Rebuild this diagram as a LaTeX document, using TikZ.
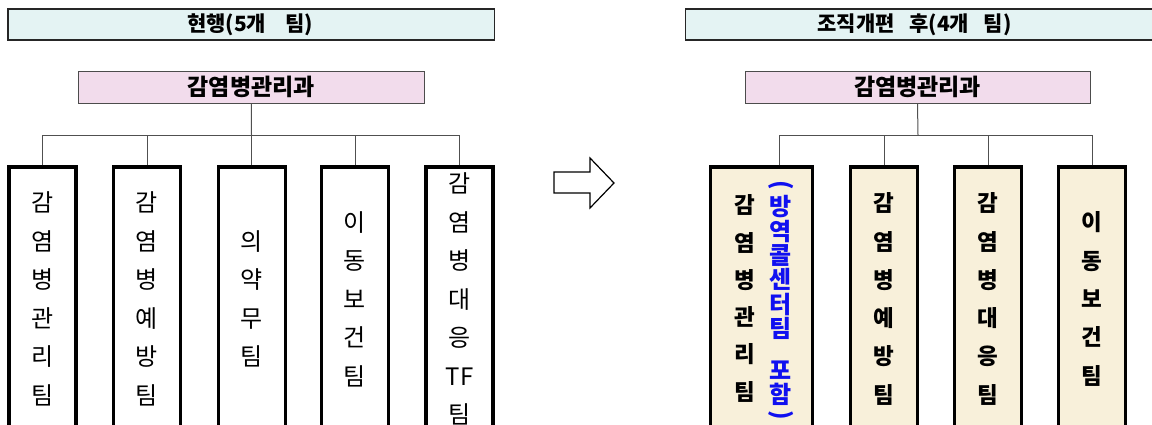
\documentclass[tikz,border=0pt]{standalone}
\usepackage{fontspec}
\setmainfont{Noto Sans CJK KR}
\definecolor{hdrfill}{HTML}{E4F3F3}
\definecolor{pinkfill}{HTML}{F2DCEC}
\definecolor{creamfill}{HTML}{F8F0DA}
\definecolor{linegray}{HTML}{505050}
\definecolor{bluetxt}{HTML}{1010F0}
\tikzset{
  hdrbox/.style={draw=black!85, line width=1.4pt, fill=hdrfill, minimum height=31pt, inner sep=0pt},
  hdrtxt/.style={font=\fontsize{21}{23}\selectfont\bfseries, inner sep=0pt},
  ttlbox/.style={draw=black!70, line width=1pt, fill=pinkfill, minimum width=346.5pt, minimum height=31.5pt, inner sep=0pt, font=\fontsize{23}{26}\selectfont\bfseries},
  teambox/.style={draw=black, line width=3.2pt, fill=white, minimum width=67pt, minimum height=264pt, inner sep=0pt, align=center, font=\fontsize{24}{38.5}\selectfont},
  teamboxR/.style={teambox, fill=creamfill, font=\fontsize{22.5}{38.3}\selectfont\bfseries},
  conn/.style={draw=linegray, line width=1pt},
  vtxt/.style={inner sep=0pt, align=center},
}
\begin{document}
\begin{tikzpicture}[x=1pt,y=-1pt]
\clip (0,0) rectangle (1152,424);
\fill[white] (0,0) rectangle (1152,424);

% ---------- left: current ----------
\node[hdrbox, minimum width=486.5pt] (lh) at (251.25,24.5) {};
\node[hdrtxt] (lht) at (250,24.5) {현행(5개\hspace{0.9em}팀)};
\node[ttlbox] (lt) at (251.25,87.25) {감염병관리과};
\coordinate (lbus) at (251.5,135);

\node[teambox] (l1) at (42.5,299) {감\\염\\병\\관\\리\\팀};
\node[teambox] (l2) at (147,299) {감\\염\\병\\예\\방\\팀};
\node[teambox] (l3) at (251.7,299) {의\\약\\무\\팀};
\node[teambox] (l4) at (355,299) {이\\동\\보\\건\\팀};
\node[teambox] (l5) at (459.5,299) {감\\염\\병\\대\\응\\TF\\팀};

\draw[conn] (lt.south) -- (lbus);
\foreach \n in {l1,l2,l3,l4,l5} \draw[conn] (\n.north) |- (lbus);

% ---------- arrow ----------
\draw[line width=1.2pt, fill=white, line join=miter] (554,172) -- (590,172) -- (590,158) -- (614,183) -- (590,208) -- (590,193) -- (554,193) -- cycle;

% ---------- right: after reorganisation ----------
\node[hdrbox, minimum width=475pt, anchor=west] (rh) at (685,24.5) {};
\node[hdrtxt] (rht) at (914.5,24.5) {조직개편\hspace{0.7em}후(4개\hspace{0.7em}팀)};
\node[ttlbox, minimum width=345pt] (rt) at (917.5,87.25) {감염병관리과};
\coordinate (rbus) at (918,135);

\node[teamboxR, minimum width=101.6pt] (r1) at (761.5,299) {};
\node[vtxt, font=\fontsize{22.5}{37.3}\selectfont\bfseries] (r1a) at (745,298.5) {감\\염\\병\\관\\리\\팀};
\node[vtxt, font=\fontsize{24}{24.4}\selectfont\bfseries, text=bluetxt] (r1b) at (781,300.5)
  {\rotatebox{-90}{(}\\[4pt]방\\역\\콜\\센\\터\\팀\\[17pt]포\\함\\[-17.5pt]\rotatebox{-90}{)}};
\node[teamboxR] (r2) at (884,299) {감\\염\\병\\예\\방\\팀};
\node[teamboxR] (r3) at (988,299) {감\\염\\병\\대\\응\\팀};
\node[teamboxR] (r4) at (1092,299) {이\\동\\보\\건\\팀};

\draw[conn] (rt.south) -- (rbus);
\draw[conn] ([xshift=17.5pt]r1.north) |- (rbus);
\foreach \n in {r2,r3,r4} \draw[conn] (\n.north) |- (rbus);
\end{tikzpicture}
\end{document}
